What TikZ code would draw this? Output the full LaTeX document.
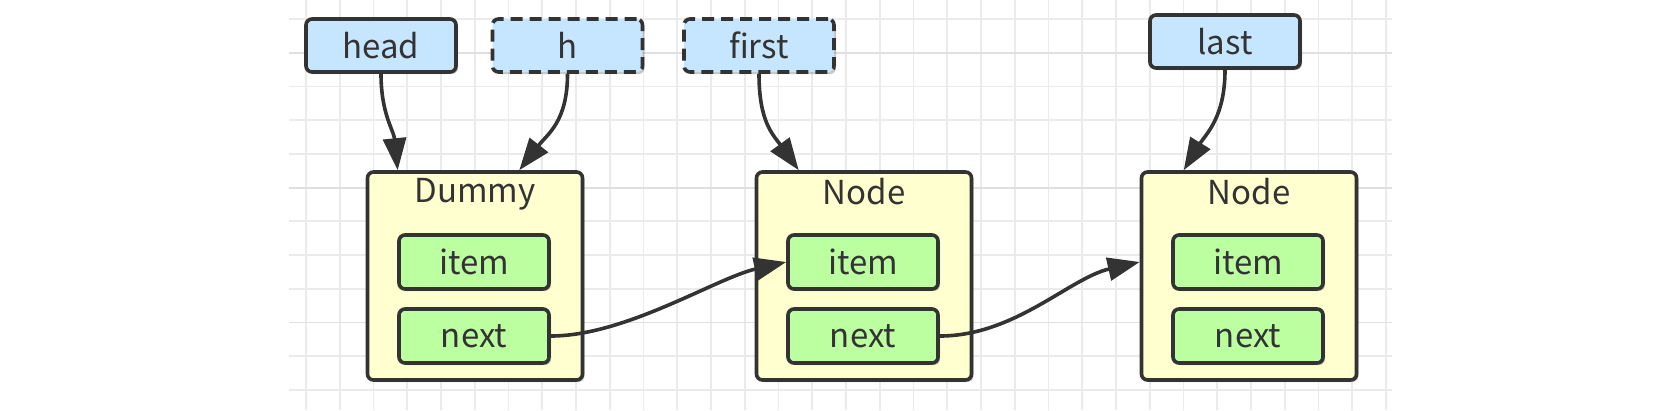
\documentclass[tikz,border=0pt]{standalone}
\usepackage{fontspec}
\setmainfont{Noto Sans CJK SC}
\usetikzlibrary{arrows.meta,shadows}
\definecolor{bluefill}{HTML}{C6E6FF}
\definecolor{yelfill}{HTML}{FFFFD0}
\definecolor{grnfill}{HTML}{BBFFA0}
\definecolor{ink}{HTML}{333333}
\definecolor{gridc}{HTML}{EBEBEB}
\definecolor{gridd}{HTML}{E0E0E0}
\begin{document}
\begin{tikzpicture}[x=1pt,y=-1pt,
  txt/.style={text=ink, font=\fontsize{33}{38}\selectfont},
  box/.style={draw=ink, line width=3.6pt, rounded corners=6pt, txt, inner sep=0pt,
    drop shadow={shadow xshift=2pt, shadow yshift=-2pt, fill=black, opacity=0.22}},
  varbox/.style={box, fill=bluefill, minimum width=150pt, minimum height=53pt},
  tmpbox/.style={varbox, dash pattern=on 12pt off 7pt},
  objbox/.style={box, fill=yelfill, minimum width=215pt, minimum height=208pt},
  fieldbox/.style={box, fill=grnfill, minimum width=150pt, minimum height=54pt},
  title/.style={txt, inner sep=0pt, anchor=north},
  ptr/.style={draw=ink, line width=3.6pt, -{Triangle[length=32pt,width=23pt]}},
]
\useasboundingbox (0,0) rectangle (1664,410);
\fill[white] (0,0) rectangle (1664,410);
% background grid
\foreach \k in {0,...,32}
  \draw[gridc, line width=1.8pt] ({306+33.75*\k},0) -- ({306+33.75*\k},410);
\foreach \k in {0,...,11}
  \draw[gridc, line width=1.8pt] (289,{19+33.73*\k}) -- (1392,{19+33.73*\k});
\foreach \k in {1,5,9}
  \draw[gridd, line width=1.8pt] (289,{19+33.73*\k}) -- (1392,{19+33.73*\k});

% pointer variables
\node[varbox] (head)  at (381,45.5)  {head};
\node[tmpbox] (h)     at (567.5,45.5) {h};
\node[tmpbox] (first) at (759,45.5)  {first};
\node[varbox] (last)  at (1225,41.5) {last};

% list nodes
\node[objbox] (dummy) at (475,276) {};
\node[objbox] (node2) at (864,276) {};
\node[objbox] (node3) at (1249,276) {};
\node[title] (dummyT) at ([yshift=-8pt]dummy.north) {Dummy};
\node[title] (node2T) at ([yshift=-8pt]node2.north) {Node};
\node[title] (node3T) at ([yshift=-8pt]node3.north) {Node};

\node[fieldbox] (ditem) at (474,262) {item};
\node[fieldbox] (dnext) at (474,336) {next};
\node[fieldbox] (n2item) at (863,262) {item};
\node[fieldbox] (n2next) at (863,336) {next};
\node[fieldbox] (n3item) at (1248,262) {item};
\node[fieldbox] (n3next) at (1248,336) {next};

% connectors
\draw[ptr] (head.south) .. controls +(0,40) and +(-4,-40) .. ([xshift=32pt]dummy.north west);
\draw[ptr] (h.south) .. controls +(0,48) and +(28,-36) .. ([xshift=-65pt]dummy.north east);
\draw[ptr] (first.south) .. controls +(0,48) and +(-26,-36) .. ([xshift=44pt]node2.north west);
\draw[ptr] (last.south) .. controls +(0,48) and +(22,-36) .. ([xshift=44pt]node3.north west);
\draw[ptr] (dnext.east) .. controls +(75,0) and +(-70,16) .. (n2item.west);
\draw[ptr] (n2next.east) .. controls +(75,0) and +(-70,16) .. (node3.west |- n3item.west);
\end{tikzpicture}
\end{document}
